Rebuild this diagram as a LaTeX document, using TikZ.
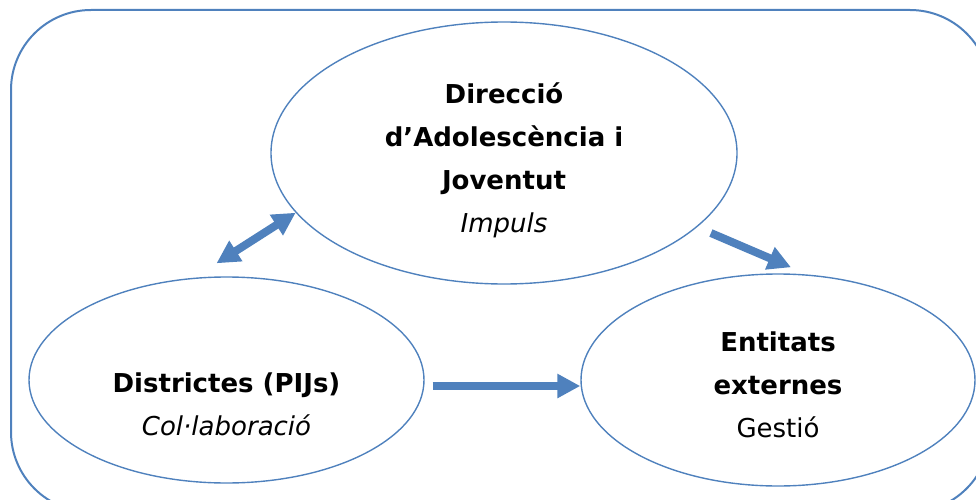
\documentclass[tikz,border=0pt]{standalone}
\usepackage{fontspec}
\setmainfont{DejaVu Sans}
\usetikzlibrary{shapes.geometric,arrows.meta}
\definecolor{ablue}{HTML}{4F81BD}
\tikzset{
  bubble/.style={draw=ablue, line width=1.4pt, ellipse, inner sep=0pt, align=center,
    font=\fontsize{26}{43}\selectfont},
  flow/.style={draw=ablue, line width=8pt, -{Triangle[length=23pt,width=23pt]}},
}
\begin{document}
\begin{tikzpicture}[x=1pt, y=-1pt, node distance=551.5pt]
\useasboundingbox (0,0) rectangle (976,500);
\draw[ablue, line width=2pt, rounded corners=80pt] (11,10) rectangle (990,512);

%nodes
\node[bubble, minimum width=466pt, minimum height=262pt] (dir) at (504,153)
  {\rule{0pt}{35pt}\textbf{Direcció}\\ \textbf{d’Adolescència i}\\ \textbf{Joventut}\\ \textit{Impuls}};
\node[bubble, minimum width=395pt, minimum height=206pt] (dist) at (226.5,380)
  {\rule{0pt}{69pt}\textbf{Districtes (PIJs)}\\ \textit{Col·laboració}};
\node[bubble, minimum width=394pt, minimum height=212pt] (ext) [right of=dist]
  {\rule{0pt}{29pt}\textbf{Entitats}\\ \textbf{externes}\\ Gestió};

%arrows
\draw[flow, {Triangle[length=23pt,width=23pt]}-{Triangle[length=23pt,width=23pt]}]
  ([shift={(-10,-13)}]dist.north) -- (dir.196);
\draw[flow, shorten <=15pt] (dir.339) -- ([shift={(13,-6)}]ext.north);
\draw[flow, shorten <=8pt] ([yshift=-6pt]dist.east) -- ([yshift=-6pt]ext.west);
\end{tikzpicture}
\end{document}
